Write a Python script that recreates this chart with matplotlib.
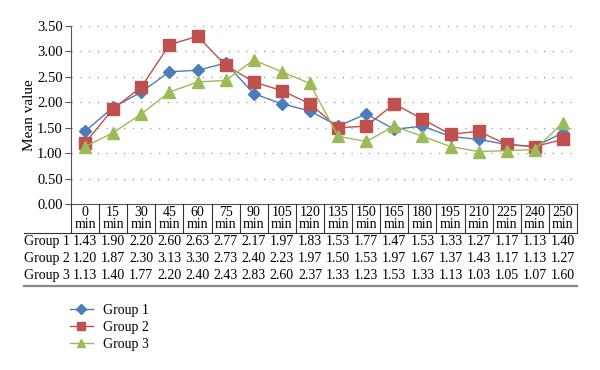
import matplotlib
matplotlib.use("Agg")
import matplotlib.pyplot as plt

plt.rcParams['font.family'] = ['Liberation Serif', 'DejaVu Serif']

times = ["0", "15", "30", "45", "60", "75", "90", "105", "120", "135",
         "150", "165", "180", "195", "210", "225", "240", "250"]
group1 = [1.43, 1.90, 2.20, 2.60, 2.63, 2.77, 2.17, 1.97, 1.83, 1.53,
          1.77, 1.47, 1.53, 1.33, 1.27, 1.17, 1.13, 1.40]
group2 = [1.20, 1.87, 2.30, 3.13, 3.30, 2.73, 2.40, 2.23, 1.97, 1.50,
          1.53, 1.97, 1.67, 1.37, 1.43, 1.17, 1.13, 1.27]
group3 = [1.13, 1.40, 1.77, 2.20, 2.40, 2.43, 2.83, 2.60, 2.37, 1.33,
          1.23, 1.53, 1.33, 1.13, 1.03, 1.05, 1.07, 1.60]
names = ["Group 1", "Group 2", "Group 3"]
yticks = [0.0, 0.5, 1.0, 1.5, 2.0, 2.5, 3.0, 3.5]

colors = ["#4A7EBB", "#C0504D", "#9BBB59"]
markers = ["D", "s", "^"]
msizes = [6, 8, 8]

W, H = 600, 370
fig = plt.figure(figsize=(6, 3.7), dpi=100)

L, R, T, B = 71, 577, 26, 204
ax = fig.add_axes([L / W, 1 - B / H, (R - L) / W, (B - T) / H])
n = len(times)
x = list(range(n))
series = [group1, group2, group3]
handles = []
for vals, c, m, ms, nm in zip(series, colors, markers, msizes, names):
    h, = ax.plot(x, vals, color=c, marker=m, markersize=ms, linewidth=1.0,
                 markeredgecolor=c, label=nm)
    handles.append(h)

ax.set_xlim(-0.5, n - 0.5)
ax.set_ylim(0, 3.5)
ax.set_yticks(yticks)
ax.set_yticklabels([f"{v:.2f}" for v in yticks], fontsize=10.5)
ax.set_xticks([])
for v in yticks[1:]:
    ax.axhline(v, color="#9a9a9a", linestyle=(0, (1, 6)), linewidth=0.9, zorder=0)
for s in ["top", "right"]:
    ax.spines[s].set_visible(False)
ax.spines["left"].set_color("#555555")
ax.spines["bottom"].set_color("#555555")
ax.tick_params(axis="y", direction="out", length=4, color="#555555", pad=2)
ax.set_ylabel("Mean value", fontsize=11, labelpad=1)

# Table below the axes
tax = fig.add_axes([L / W, 0, (R - L) / W, 1 - B / H])
tax.set_xlim(-0.5, n - 0.5)
tax.set_ylim(H, B)  # pixel-like coordinates, y downward
tax.axis("off")

hdr_bot = 233
for i in range(n + 1):
    tax.plot([i - 0.5, i - 0.5], [B, hdr_bot], color="#333333", lw=0.8, clip_on=False)
colw = (R - L) / n
xl = -0.5 - (L - 24) / colw
tax.plot([xl, n - 0.5], [hdr_bot, hdr_bot], color="#333333", lw=0.8, clip_on=False)
tax.plot([xl, n - 0.5], [286, 286], color="#888888", lw=1.6, clip_on=False)
for i, t in enumerate(times):
    tax.text(i, 213, t, ha="center", va="center", fontsize=10, clip_on=False)
    tax.text(i, 225, "min", ha="center", va="center", fontsize=10, clip_on=False)
rows_y = [242, 259, 276]
for vals, nm, yy in zip(series, names, rows_y):
    tax.text(xl, yy, nm, ha="left", va="center", fontsize=10, clip_on=False)
    for i, v in enumerate(vals):
        tax.text(i, yy, f"{v:.2f}", ha="center", va="center", fontsize=10, clip_on=False)

fig.legend(handles=handles, loc="upper left", bbox_to_anchor=(64 / W, 1 - 298 / H),
           frameon=False, fontsize=10, handlelength=1.7, labelspacing=0.3,
           handletextpad=0.7, borderaxespad=0, markerscale=0.8)

fig.savefig("out.png", dpi=100)
